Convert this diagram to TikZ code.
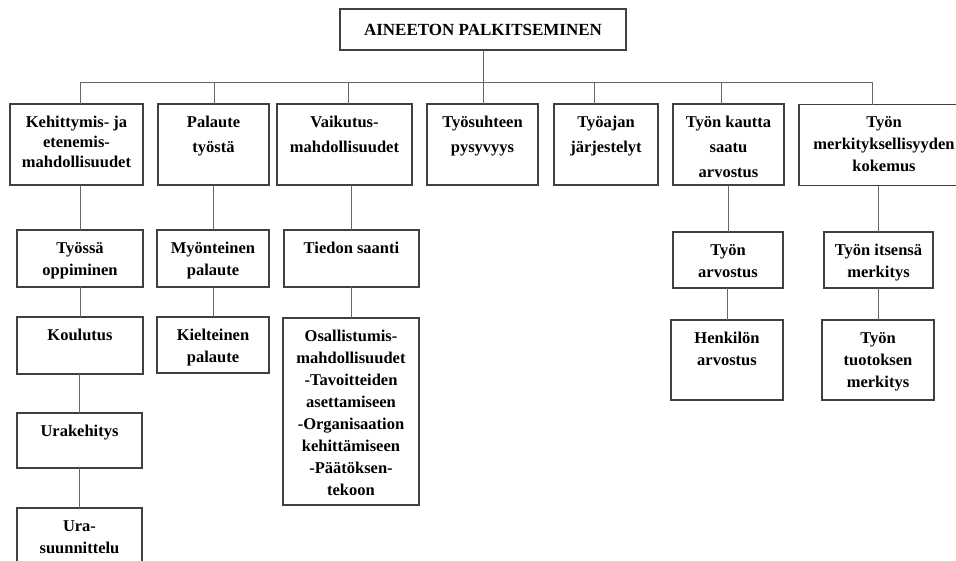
\documentclass[tikz,border=0pt]{standalone}
\usepackage{fontspec}
\setmainfont{Liberation Serif}
\begin{document}
\begin{tikzpicture}[x=1pt, y=-1pt,
    box/.style={rectangle, draw=black!75, line width=1.3pt, inner sep=0pt, outer sep=0pt},
    txt/.style={anchor=north, align=center, inner sep=0pt, yshift=-12pt, font=\fontsize{16.5}{22}\selectfont\bfseries},
    link/.style={draw=black!60, line width=1pt}]

    \useasboundingbox (0,0) rectangle (956,560);
    \clip (0,0) rectangle (956,560);

    % Top box
    \node[box, minimum width=286pt, minimum height=41pt, font=\fontsize{17}{22}\selectfont\bfseries] (top) at (483,29.5) {AINEETON PALKITSEMINEN};

    % First row
    \node[box, minimum width=133pt, minimum height=81pt, label={[txt]north:{Kehittymis- ja\\[-2pt]etenemis-\\[-2pt]mahdollisuudet}}] (R1) at (76.5,144.5) {};
    \node[box, minimum width=111pt, minimum height=81pt, label={[txt]north:{Palaute\\[3pt]työstä}}] (R2) at (213.5,144.5) {};
    \node[box, minimum width=135pt, minimum height=81pt, label={[txt]north:{Vaikutus-\\[3pt]mahdollisuudet}}] (R3) at (344.5,144.5) {};
    \node[box, minimum width=111pt, minimum height=81pt, label={[txt]north:{Työsuhteen\\[3pt]pysyvyys}}] (R4) at (482.5,144.5) {};
    \node[box, minimum width=104pt, minimum height=81pt, label={[txt]north:{Työajan\\[3pt]järjestelyt}}] (R5) at (606,144.5) {};
    \node[box, minimum width=111pt, minimum height=81pt, label={[txt]north:{Työn kautta\\[3pt]saatu\\[3pt]arvostus}}] (R6) at (728.5,144.5) {};
    \node[box, minimum width=170pt, minimum height=81pt, label={[txt]north:{Työn\\merkityksellisyyden\\kokemus}}] (R7) at (884,145) {};

    % Second row
    \node[box, minimum width=126pt, minimum height=57pt, label={[txt]north:{Työssä\\oppiminen}}] (C1) at (80,258.5) {};
    \node[box, minimum width=112pt, minimum height=57pt, label={[txt]north:{Myönteinen\\palaute}}] (C2) at (213,258.5) {};
    \node[box, minimum width=135pt, minimum height=57pt, label={[txt]north:{Tiedon saanti}}] (C3) at (351.5,258.5) {};
    \node[box, minimum width=110pt, minimum height=56pt, label={[txt]north:{Työn\\arvostus}}] (C6) at (728,260) {};
    \node[box, minimum width=109pt, minimum height=56pt, label={[txt]north:{Työn itsensä\\merkitys}}] (C7) at (878.5,260) {};

    % Lower rows
    \node[box, minimum width=126pt, minimum height=57pt, label={[txt]north:{Koulutus}}] (K) at (80,345.5) {};
    \node[box, minimum width=112pt, minimum height=56pt, label={[txt]north:{Kielteinen\\palaute}}] (KP) at (213,345) {};
    \node[box, minimum width=136pt, minimum height=187pt, label={[txt]north:{Osallistumis-\\mahdollisuudet\\-Tavoitteiden\\asettamiseen\\-Organisaation\\kehittämiseen\\-Päätöksen-\\tekoon}}] (O) at (351,411.5) {};
    \node[box, minimum width=112pt, minimum height=80pt, label={[txt]north:{Henkilön\\arvostus}}] (H) at (727,360) {};
    \node[box, minimum width=112pt, minimum height=80pt, label={[txt]north:{Työn\\tuotoksen\\merkitys}}] (TT) at (878,360) {};
    \node[box, minimum width=125pt, minimum height=55pt, label={[txt]north:{Urakehitys}}] (U) at (79.5,440.5) {};
    \node[box, minimum width=125pt, minimum height=67pt, label={[txt]north:{Ura-\\suunnittelu}}] (US) at (79.5,541.5) {};

    % Bus from the top box
    \foreach \x/\n in {80/R1,214/R2,348/R3,483/R4,594/R5,721/R6,872/R7}{
        \coordinate (d\n) at (\x,82);
        \draw[link] (d\n) -- (d\n |- \n.north);
    }
    \draw[link] (dR1) -- (dR7);
    \draw[link] (top) -- (dR4);

    % Columns
    \draw[link] (R1.south -| C1.north) -- (C1.north);
    \draw[link] (C1.south -| K.north) -- (K.north);
    \draw[link] (K.south -| U.north) -- (U.north);
    \draw[link] (U.south -| US.north) -- (US.north);
    \draw[link] (R2.south -| C2.north) -- (C2.north);
    \draw[link] (C2.south -| KP.north) -- (KP.north);
    \draw[link] (R3.south -| C3.north) -- (C3.north);
    \draw[link] (C3.south -| O.north) -- (O.north);
    \draw[link] (R6.south -| C6.north) -- (C6.north);
    \draw[link] (C6.south -| H.north) -- (H.north);
    \draw[link] (R7.south -| C7.north) -- (C7.north);
    \draw[link] (C7.south -| TT.north) -- (TT.north);

\end{tikzpicture}
\end{document}
